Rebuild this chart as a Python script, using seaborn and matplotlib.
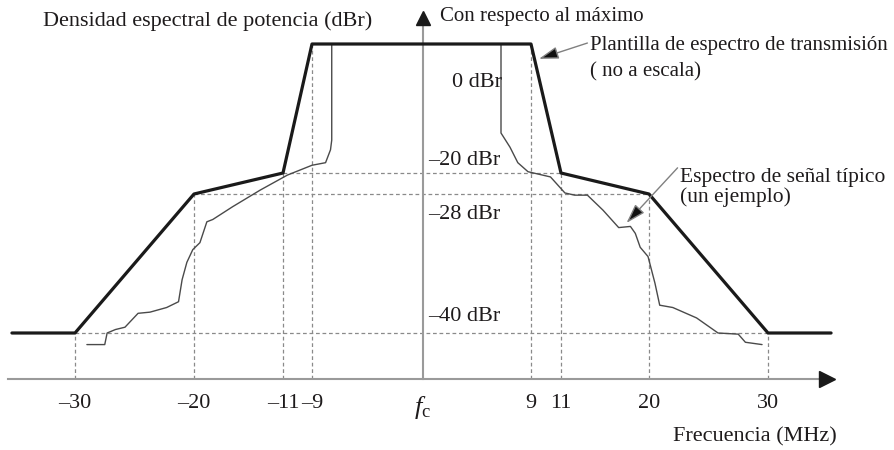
import numpy as np
import matplotlib
matplotlib.use('Agg')
import matplotlib.pyplot as plt
import seaborn as sns

# Transmit spectrum mask corners: offset from fc (MHz) and level (dBr)
mask_freq = [-35.3, -30, -20, -11, -9, 9, 11, 20, 30, 35.3]
mask_dbr = [-40, -40, -28, -20, 0, 0, -20, -28, -40, -40]

# Typical signal spectrum (one example)
sig_freq = [-29.0, -27.5, -27.3, -26.6, -25.8, -24.7, -23.7, -22.3, -21.3, -21.0,
            -20.6, -20.1, -19.4, -18.7, -18.1, -16.1, -13.3, -10.7, -9.0, -7.9,
            -7.5, -7.4, -7.4,
            6.5, 6.5, 7.25, 7.9, 8.75, 10.3, 11.4, 12.4, 13.7, 15.3,
            16.9, 18.1, 18.6, 19.1, 19.9, 20.5, 20.9, 22.0, 24.0, 25.8,
            27.5, 28.1, 29.5]
sig_dbr = [-41.0, -41.0, -40.0, -39.7, -39.5, -38.3, -38.2, -37.8, -37.3, -35.4,
           -33.9, -32.8, -32.2, -30.4, -30.2, -29.1, -26.5, -20.8, -18.8, -18.4,
           -16.4, -14.9, 0,
           0, -13.8, -16.0, -18.4, -19.8, -21.5, -27.6, -28.1, -28.1, -29.4,
           -30.9, -30.8, -31.4, -32.6, -33.4, -35.7, -37.6, -37.8, -38.7, -40.0,
           -40.1, -40.8, -41.0]

tick_freq = [-30, -20, -11, -9, 0, 9, 11, 20, 30]
tick_labels = ['–30', '–20', '–11', '–9', r'$f_{\mathrm{c}}$', '9', '11', '20', '30']
level_text = ['0 dBr', '–20 dBr', '–28 dBr', '–40 dBr']

# the drawing is "not to scale": piecewise mapping of frequency / level to pixels
x_knots = [-40, -30, -20, -11, -9, 0, 9, 11, 20, 30, 45]
x_pix = [-44, 75, 194, 283, 312, 423, 531, 561, 649, 768, 946.5]
y_knots = [-60, -40, -28, -20, 0, 10]
y_pix = [564.6, 333, 194, 173, 44, -20.5]


def fwd_x(v):
    return np.interp(v, x_knots, x_pix)


def inv_x(p):
    return np.interp(p, x_pix, x_knots)


def fwd_y(v):
    return -np.interp(v, y_knots, y_pix)


def inv_y(p):
    return np.interp(-np.asarray(p), y_pix[::-1], y_knots[::-1])


sns.set_theme(style='white')
plt.rcParams['font.family'] = ['Liberation Serif', 'DejaVu Serif']
plt.rcParams['mathtext.fontset'] = 'custom'
plt.rcParams['mathtext.it'] = 'Liberation Serif:italic'
plt.rcParams['mathtext.rm'] = 'Liberation Serif'

txt = '#1e1b1c'
grid_c = '#8a8a8a'
axis_c = '#9a9a9a'
fs = 16
base = -44.0

fig = plt.figure(figsize=(8.95, 4.5), dpi=100)
ax = fig.add_axes([0, 0, 1, 1])
ax.set_xscale('function', functions=(fwd_x, inv_x))
ax.set_yscale('function', functions=(fwd_y, inv_y))

# dashed guides from the mask corners
corner_f = mask_freq[1:-1]
corner_d = mask_dbr[1:-1]
ax.vlines(corner_f, base, corner_d, colors=grid_c, lw=0.9, ls=(0, (3, 2.2)), zorder=1)
for i in range(len(corner_f) // 2):
    if corner_d[i] != 0:
        ax.hlines(corner_d[i], corner_f[i], corner_f[-1 - i], colors=grid_c,
                  lw=0.9, ls=(0, (3, 2.2)), zorder=1)

sns.lineplot(x=sig_freq, y=sig_dbr, ax=ax, color='#4a4a4a', lw=1.0,
             estimator=None, sort=False, zorder=3)
sns.lineplot(x=mask_freq, y=mask_dbr, ax=ax, color='#1a1a1a', lw=2.3,
             estimator=None, sort=False, zorder=4)

# axes drawn as spines crossing at fc / base level
for s in ['top', 'right']:
    ax.spines[s].set_visible(False)
ax.spines['bottom'].set_position(('data', base))
ax.spines['left'].set_position(('data', 0))
ax.spines['bottom'].set_bounds(-35.6, 34.9)
ax.spines['left'].set_bounds(base, 3.9)
for s in ['bottom', 'left']:
    ax.spines[s].set_color(axis_c)
    ax.spines[s].set_linewidth(1.5)
ax.plot([34.96], [base], marker='>', ms=11, color='#1a1a1a', clip_on=False, zorder=5)
ax.plot([0], [4.0], marker='^', ms=10, color='#1a1a1a', clip_on=False, zorder=5)

ax.set_xticks(tick_freq)
ax.set_xticklabels(tick_labels)
ax.set_yticks([])
ax.tick_params(axis='x', length=0, pad=10.5, labelsize=fs, colors=txt)
ax.get_xticklabels()[4].set_fontsize(19)
ax.minorticks_off()

ax.set_xlim(inv_x(0), inv_x(895))
ax.set_ylim(inv_y(-450), inv_y(0))
ax.set_xlabel('')
ax.set_ylabel('')

# texts
ax.text(-32.7, 3.6, 'Densidad espectral de potencia (dBr)', fontsize=16, color=txt,
        ha='left', va='center')
ax.text(1.4, 4.2, 'Con respecto al máximo', fontsize=15, color=txt, ha='left', va='center')
ax.text(14.0, -0.3, 'Plantilla de espectro de transmisión', fontsize=15, color=txt,
        ha='left', va='center')
ax.text(14.0, -4.3, '( no a escala)', fontsize=15, color=txt, ha='left', va='center')
ax.text(22.6, -21.9, 'Espectro de señal típico', fontsize=15.5, color=txt,
        ha='left', va='center')
ax.text(22.6, -28.3, '(un ejemplo)', fontsize=15.5, color=txt, ha='left', va='center')
ax.text(22.0, -49.0, 'Frecuencia (MHz)', fontsize=16, color=txt, ha='left', va='center')

level_x = [2.4, 0.4, 0.4, 0.4]
level_y = [-5.9, -18.0, -29.8, -38.6]
for lx, ly, lt in zip(level_x, level_y, level_text):
    ax.text(lx, ly, lt, fontsize=16, color=txt, ha='left', va='center')

arrow = dict(arrowstyle='-|>,head_length=0.7,head_width=0.22', ec='#808080',
             fc='#111111', lw=1, mutation_scale=17, shrinkA=0, shrinkB=0)
ax.annotate('', xy=(9.53, -2.3), xytext=(13.7, 0.15), arrowprops=arrow, zorder=6)
ax.annotate('', xy=(17.7, -30.5), xytext=(22.4, -19.2), arrowprops=arrow, zorder=6)

fig.savefig('out.png', dpi=100)
